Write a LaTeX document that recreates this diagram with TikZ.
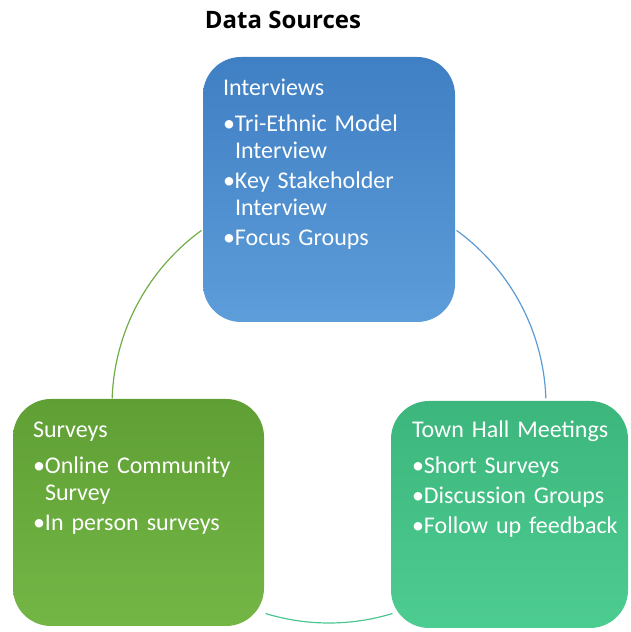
\documentclass[tikz,border=0pt]{standalone}
\usepackage{fontspec}
\setmainfont{Carlito}
\newfontfamily\headfont{Open Sans}
\usepackage{tikz}
\usepackage{xcolor}

\definecolor{intvtop}{HTML}{3F7FC3}
\definecolor{intvbot}{HTML}{5D9DDA}
\definecolor{survtop}{HTML}{5F9F34}
\definecolor{survbot}{HTML}{74B646}
\definecolor{townt}{HTML}{3CB67C}
\definecolor{townb}{HTML}{4DCC91}
\definecolor{ringgreen}{HTML}{70AD47}
\definecolor{ringblue}{HTML}{5B9BD5}
\definecolor{ringteal}{HTML}{4CC790}

\newcommand{\bul}[1]{\par\hangindent=12pt\hangafter=1\makebox[12pt][l]{\textbullet}#1}

\begin{document}
\begin{tikzpicture}[%
        x=1pt, y=1pt,
        box/.style={rectangle, rounded corners=38pt, inner sep=0pt},
        txt/.style={text=white, inner sep=0pt, align=left, text width=228pt,
            font=\fontsize{24}{27}\selectfont,
            execute at begin node={\setlength{\parskip}{3pt}}},
        ring/.style={line width=1.2pt}]
        \useasboundingbox (0,0) rectangle (631,632);

        % Ring
        \coordinate (hub) at (329,226);
        \draw[ring, ringgreen] ([shift={(178:217)}]hub) arc[start angle=178, end angle=126, radius=217];
        \draw[ring, ringblue] ([shift={(54:217)}]hub) arc[start angle=54, end angle=2, radius=217];
        \draw[ring, ringteal] ([shift={(287:217)}]hub) arc[start angle=287, end angle=253, radius=217];

        % Nodes
        \node[font=\headfont\bfseries\fontsize{24}{28}\selectfont, anchor=base] (title) at (283,603) {Data Sources};
        \node[box, minimum width=252pt, minimum height=265pt, top color=intvtop, bottom color=intvbot] (intv) at (329,442.5) {};
        \node[box, minimum width=251pt, minimum height=227pt, top color=survtop, bottom color=survbot] (surv) at (138.5,119.5) {};
        \node[box, minimum width=237pt, minimum height=227pt, top color=townt, bottom color=townb] (town) at (509.5,117.5) {};

        % Texts
        \node[txt, anchor=north west] (intvtxt) at ([shift={(20,-20)}]intv.north west) {%
            \rule{0pt}{19pt}Interviews\par\vspace{6pt}
            \bul{Tri-Ethnic Model\break Interview}
            \bul{Key Stakeholder\break Interview}
            \bul{Focus Groups}};
        \node[txt, anchor=north west] (survtxt) at ([shift={(20,-20)}]surv.north west) {%
            \rule{0pt}{19pt}Surveys\par\vspace{6pt}
            \bul{Online Community\break Survey}
            \bul{In person surveys}};
        \node[txt, anchor=north west] (towntxt) at ([shift={(21,-18)}]town.north west) {%
            \rule{0pt}{19pt}Town Hall Meetings\par\vspace{6pt}
            \bul{Short Surveys}
            \bul{Discussion Groups}
            \bul{Follow up feedback}};
    \end{tikzpicture}
\end{document}
